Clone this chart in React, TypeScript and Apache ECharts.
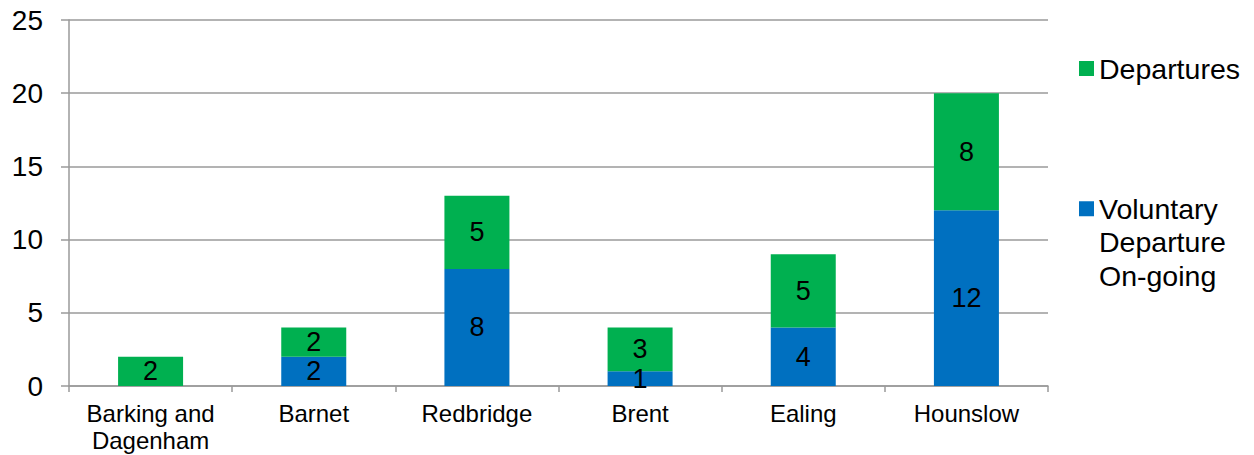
import React, { useEffect, useRef } from "react";
import * as echarts from "echarts";

const categories = ["Barking and Dagenham", "Barnet", "Redbridge", "Brent", "Ealing", "Hounslow"];
const voluntaryOngoing = [0, 2, 8, 1, 4, 12];
const departures = [2, 2, 5, 3, 5, 8];
const seriesNames = ["Voluntary Departure On-going", "Departures"];

const FONT = "'Liberation Sans', Arial, Helvetica, sans-serif";
const GRID_COLOR = "#9a9a9a";

export default function App() {
  const ref = useRef<HTMLDivElement>(null);
  useEffect(() => {
    if (!ref.current) return;
    const chart = echarts.init(ref.current, null, { renderer: "svg" });
    const labelOpt = {
      show: true,
      position: "inside",
      color: "#000",
      fontSize: 27,
      fontFamily: FONT,
      formatter: (p: any) => (p.value === 0 ? "" : String(p.value)),
    };
    const legendCommon = {
      orient: "vertical",
      left: 1079,
      padding: 0,
      icon: "rect",
      itemWidth: 15,
      itemHeight: 15,
      selectedMode: false,
    };
    chart.setOption({
      animation: false,
      textStyle: { fontFamily: FONT },
      grid: { left: 69, right: 206, top: 20, bottom: 69, containLabel: false },
      legend: [
        {
          ...legendCommon,
          top: 52,
          data: [seriesNames[1]],
          textStyle: { fontSize: 28.5, color: "#000", fontFamily: FONT, lineHeight: 33 },
        },
        {
          ...legendCommon,
          top: 125,
          data: [seriesNames[0]],
          formatter: (n: string) =>
            "{pad| }\n" + n.split(" ").map((w) => "{t|" + w + "}").join("\n"),
          textStyle: {
            fontSize: 28.5,
            color: "#000",
            fontFamily: FONT,
            rich: {
              pad: { height: 67, lineHeight: 67, fontSize: 2 },
              t: { fontSize: 28.5, lineHeight: 33.5, color: "#000", fontFamily: FONT },
            },
          },
        },
      ],
      xAxis: {
        type: "category",
        data: categories,
        boundaryGap: true,
        axisLine: { show: true, lineStyle: { color: GRID_COLOR, width: 1.5 } },
        axisTick: { show: true, length: 6, lineStyle: { color: GRID_COLOR, width: 1.5 } },
        axisLabel: {
          color: "#000",
          fontSize: 24,
          lineHeight: 27,
          margin: 14,
          fontFamily: FONT,
          interval: 0,
          formatter: (v: string) => v.replace(" and ", " and\n"),
        },
      },
      yAxis: {
        type: "value",
        min: 0,
        max: 25,
        interval: 5,
        axisLine: { show: true, lineStyle: { color: GRID_COLOR, width: 1.5 } },
        axisTick: { show: true, length: 8, lineStyle: { color: GRID_COLOR, width: 1.5 } },
        splitLine: { show: true, lineStyle: { color: GRID_COLOR, width: 1.5 } },
        axisLabel: { color: "#000", fontSize: 28, margin: 26, fontFamily: FONT },
      },
      series: [
        {
          name: seriesNames[0],
          type: "bar",
          stack: "total",
          data: voluntaryOngoing,
          barWidth: 65,
          itemStyle: { color: "#0070C0" },
          label: labelOpt,
        },
        {
          name: seriesNames[1],
          type: "bar",
          stack: "total",
          data: departures,
          barWidth: 65,
          itemStyle: { color: "#00B050" },
          label: labelOpt,
        },
      ],
    });
    return () => chart.dispose();
  }, []);
  return (
    <div
      ref={ref}
      style={{ position: "absolute", left: 0, top: 0, width: 1254, height: 455 }}
    />
  );
}
